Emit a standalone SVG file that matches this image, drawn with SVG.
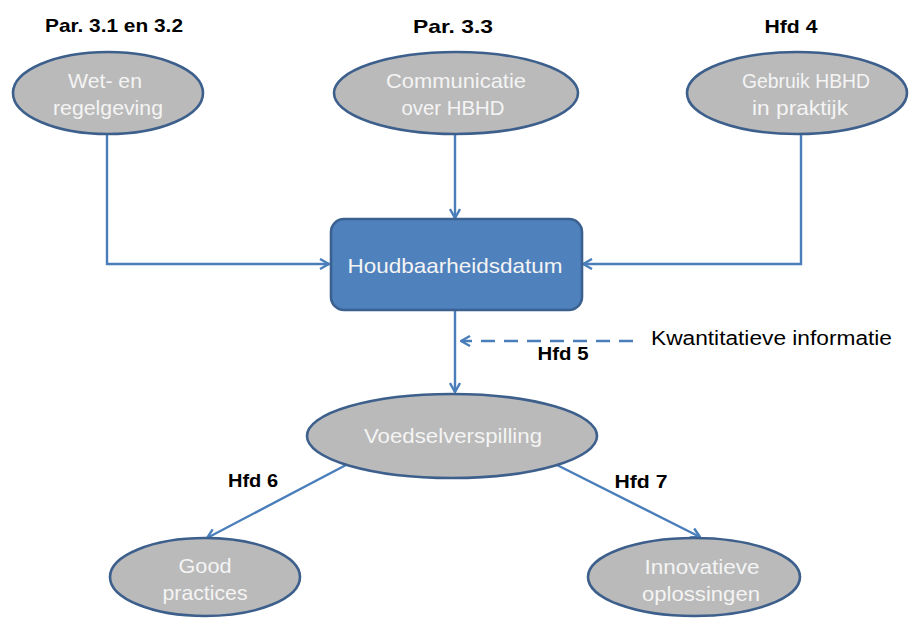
<svg xmlns="http://www.w3.org/2000/svg" width="910" height="619" viewBox="0 0 910 619">
<style>
.ell{fill:#bababa;stroke:#3d5f8c;stroke-width:2.6}
.box{fill:#4f81bd;stroke:#3b6190;stroke-width:2.6}
.nt{font-family:"Liberation Sans",Arial,sans-serif;font-size:21px;fill:#f4f4f4;text-anchor:middle}
.lb{font-family:"Liberation Sans",Arial,sans-serif;font-size:18.5px;font-weight:bold;fill:#000;text-anchor:middle}
.tx{font-family:"Liberation Sans",Arial,sans-serif;font-size:20px;fill:#000}
.cn{fill:none;stroke:#4a7ebb;stroke-width:2.4}
.dash{stroke-dasharray:14 9}
</style>
<defs>
<marker id="ah" viewBox="0 0 12 12" refX="11" refY="6" markerWidth="12" markerHeight="12" markerUnits="userSpaceOnUse" orient="auto">
<path d="M2,1 L11,6 L2,11" fill="none" stroke="#4a7ebb" stroke-width="2.4"/>
</marker>
</defs>
<rect width="910" height="619" fill="#fff"/>
<g id="connectors">
<path class="cn" d="M107,135 V264 H329" marker-end="url(#ah)"/>
<path class="cn" d="M801,135 V264 H583" marker-end="url(#ah)"/>
<path class="cn" d="M455,134 V218" marker-end="url(#ah)"/>
<path class="cn" d="M455,311 V392" marker-end="url(#ah)"/>
<path class="cn dash" d="M633,341 H461" marker-end="url(#ah)"/>
<path class="cn" d="M346,465 L207,538" marker-end="url(#ah)"/>
<path class="cn" d="M557,465 L700,537" marker-end="url(#ah)"/>
</g>
<g id="labels">
<text class="lb" x="114" y="32" textLength="138" lengthAdjust="spacingAndGlyphs">Par. 3.1 en 3.2</text>
<text class="lb" x="453" y="33" textLength="80" lengthAdjust="spacingAndGlyphs">Par. 3.3</text>
<text class="lb" x="791" y="33" textLength="53" lengthAdjust="spacingAndGlyphs">Hfd 4</text>
<text class="lb" x="563" y="360" textLength="51" lengthAdjust="spacingAndGlyphs">Hfd 5</text>
<text class="lb" x="253" y="487" textLength="50" lengthAdjust="spacingAndGlyphs">Hfd 6</text>
<text class="lb" x="641" y="488" textLength="53" lengthAdjust="spacingAndGlyphs">Hfd 7</text>
<text class="tx" x="651" y="345" textLength="241" lengthAdjust="spacingAndGlyphs">Kwantitatieve informatie</text>
</g>
<g id="node-wet">
<ellipse class="ell" cx="108" cy="93" rx="95" ry="41"/>
<text class="nt" x="105" y="88" textLength="74" lengthAdjust="spacingAndGlyphs">Wet- en</text>
<text class="nt" x="108" y="115" textLength="110" lengthAdjust="spacingAndGlyphs">regelgeving</text>
</g>
<g id="node-communicatie">
<ellipse class="ell" cx="456" cy="93" rx="122" ry="41"/>
<text class="nt" x="456" y="88" textLength="140" lengthAdjust="spacingAndGlyphs">Communicatie</text>
<text class="nt" x="453" y="115" textLength="103" lengthAdjust="spacingAndGlyphs">over HBHD</text>
</g>
<g id="node-gebruik">
<ellipse class="ell" cx="797" cy="93" rx="110" ry="41"/>
<text class="nt" x="806" y="88" textLength="128" lengthAdjust="spacingAndGlyphs">Gebruik HBHD</text>
<text class="nt" x="800" y="115" textLength="96" lengthAdjust="spacingAndGlyphs">in praktijk</text>
</g>
<g id="node-houdbaarheidsdatum">
<rect class="box" x="331" y="219" width="251" height="91" rx="13"/>
<text class="nt" x="455" y="273" textLength="215" lengthAdjust="spacingAndGlyphs">Houdbaarheidsdatum</text>
</g>
<g id="node-voedselverspilling">
<ellipse class="ell" cx="452" cy="436" rx="145" ry="42"/>
<text class="nt" x="453" y="443" textLength="178" lengthAdjust="spacingAndGlyphs">Voedselverspilling</text>
</g>
<g id="node-good">
<ellipse class="ell" cx="205" cy="577" rx="95" ry="39"/>
<text class="nt" x="205" y="573" textLength="53" lengthAdjust="spacingAndGlyphs">Good</text>
<text class="nt" x="205" y="600" textLength="85" lengthAdjust="spacingAndGlyphs">practices</text>
</g>
<g id="node-innovatieve">
<ellipse class="ell" cx="694" cy="577" rx="106" ry="39"/>
<text class="nt" x="702" y="574" textLength="115" lengthAdjust="spacingAndGlyphs">Innovatieve</text>
<text class="nt" x="701" y="601" textLength="118" lengthAdjust="spacingAndGlyphs">oplossingen</text>
</g>
</svg>
